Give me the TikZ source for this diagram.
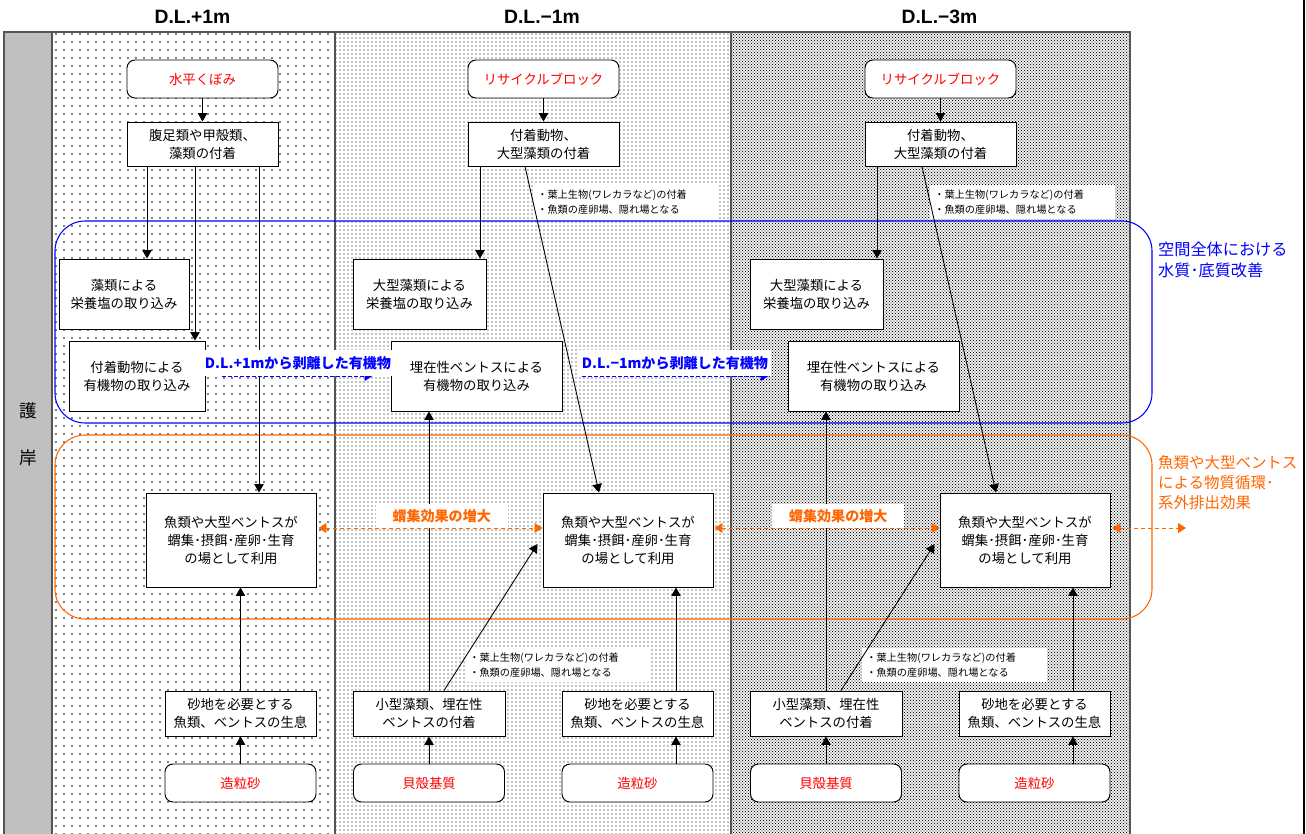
\documentclass[tikz,border=0pt]{standalone}
\usepackage{fontspec}
\setmainfont{Noto Sans CJK JP}
\newfontfamily\headfont{Liberation Sans}
\usepackage{tikz}
\usetikzlibrary{calc, arrows.meta, patterns.meta}
\definecolor{waterBlue}{HTML}{0000FF}
\definecolor{fishOrange}{HTML}{FF6600}
\definecolor{blockRed}{HTML}{FF0000}
\definecolor{wallGray}{HTML}{C0C0C0}
\definecolor{lineGray}{HTML}{555555}

\newcommand{\boxfont}{\fontsize{7.6}{10.2}\selectfont}
\newcommand{\notefont}{\fontsize{5.8}{8.6}\selectfont}

\tikzset{
  box/.style={draw, fill=white, line width=0.55pt, align=center, font=\boxfont, inner sep=0pt},
  srcbox/.style={box, rounded corners=1.6mm, text=blockRed, minimum width=30.2mm, minimum height=7.6mm},
  arr/.style={-{Triangle[length=1.7mm, width=1.9mm]}, line width=0.5pt},
  notebox/.style={fill=white, align=left, font=\notefont, text width=35.4mm, inner xsep=0.8mm, inner ysep=1mm, anchor=west},
  driftArr/.style={-{Triangle[length=1.6mm, width=2mm]}, waterBlue, dash pattern=on 0.7mm off 0.5mm, line width=0.5pt},
  driftLabel/.style={fill=white, text=waterBlue, font=\fontsize{8}{9}\selectfont\bfseries, inner xsep=0.6mm, inner ysep=1.3mm, above=-0.1mm},
  gatherArr/.style={{Triangle[length=1.6mm, width=2mm]}-{Triangle[length=1.6mm, width=2mm]}, fishOrange, dash pattern=on 0.8mm off 0.6mm, line width=0.5pt},
  gatherLabel/.style={fill=white, text=fishOrange, font=\fontsize{8}{9}\selectfont\bfseries, inner xsep=3.4mm, inner ysep=1mm, above=0mm, pos=0.55},
}

\begin{document}
\begin{tikzpicture}[x=0.2mm, y=-0.2mm]
    \useasboundingbox (0,0) rectangle (1306,834);

    % depth zones
    \fill[wallGray] (4,32) rectangle (52,840);
    \fill[pattern={Dots[distance=1.6mm, radius=0.17mm]}] (52,32) rectangle (335,840);
    \fill[pattern={Dots[distance=0.8mm, radius=0.12mm]}] (335,32) rectangle (731,840);
    \fill[pattern={Dots[distance=0.6mm, radius=0.13mm]}] (731,32) rectangle (1130,840);
    \fill[pattern={Dots[distance=0.6mm, radius=0.13mm, xshift=0.3mm, yshift=0.3mm]}] (731,32) rectangle (1130,840);
    \draw[lineGray, line width=1pt] (4,840) -- (4,32) -- (1130,32) -- (1130,840);
    \foreach \x in {52,335,731}
        \draw[lineGray, line width=1pt] (\x,32) -- (\x,840);
    \draw[line width=1pt] (1304,0) -- (1304,834);

    \node[font=\headfont\bfseries\fontsize{11}{13}\selectfont] (head1) at (192.5,17) {D.L.+1m};
    \node[font=\headfont\bfseries\fontsize{11}{13}\selectfont] (head2) at (542,17) {D.L.−1m};
    \node[font=\headfont\bfseries\fontsize{11}{13}\selectfont] (head3) at (939.5,17) {D.L.−3m};
    \node[font=\fontsize{10}{12}\selectfont] (wallA) at (28,411) {護};
    \node[font=\fontsize{10}{12}\selectfont] (wallB) at (28,458) {岸};

    % effect groups
    \draw[waterBlue, line width=0.6pt, rounded corners=6mm] (55,221) rectangle (1152,423);
    \draw[fishOrange, line width=0.6pt, rounded corners=6mm] (55,435) rectangle (1152,619);
    \node[text=waterBlue, font=\fontsize{9.2}{12}\selectfont, align=left, anchor=west] (waterNote) at (1152,260) {空間全体における\\水質･底質改善};
    \node[text=fishOrange, font=\fontsize{8.8}{11.4}\selectfont, align=left, anchor=west] (cycleNote) at (1152,483) {魚類や大型ベントス\\による物質循環･\\系外排出効果};

    % D.L.+1m
    \node[srcbox] (src1) at (202.5,79) {水平くぼみ};
    \node[box, minimum width=30.2mm, minimum height=8.8mm] (att1) at (202.5,144) {腹足類や甲殻類、\\藻類の付着};
    \node[box, minimum width=26mm, minimum height=14mm] (alg1) at (124,294) {藻類による\\栄養塩の取り込み};
    \node[box, minimum width=27.2mm, minimum height=14mm] (org1) at (137,376) {付着動物による\\有機物の取り込み};
    \node[box, minimum width=34mm, minimum height=18.8mm] (fish1) at (231,540) {魚類や大型ベントスが\\蝟集･摂餌･産卵･生育\\の場として利用};
    \node[box, minimum width=30.2mm, minimum height=9mm] (sand1) at (240.5,713.5) {砂地を必要とする\\魚類、ベントスの生息};
    \node[srcbox] (grain1) at (240.5,783) {造粒砂};

    % D.L.-1m and D.L.-3m
    \foreach \p/\dx in {2/0, 3/397} {
        \node[srcbox] (src\p) at (543.5+\dx,79) {リサイクルブロック};
        \node[box, minimum width=30.2mm, minimum height=8.8mm] (att\p) at (543.5+\dx,144) {付着動物、\\大型藻類の付着};
        \node[box, minimum width=26.6mm, minimum height=14mm] (alg\p) at (419.5+\dx,294) {大型藻類による\\栄養塩の取り込み};
        \node[box, minimum width=34.2mm, minimum height=14mm] (org\p) at (476.5+\dx,376) {埋在性ベントスによる\\有機物の取り込み};
        \node[box, minimum width=34mm, minimum height=18.8mm] (fish\p) at (628+\dx,540) {魚類や大型ベントスが\\蝟集･摂餌･産卵･生育\\の場として利用};
        \node[box, minimum width=30.4mm, minimum height=9mm] (small\p) at (429+\dx,713.5) {小型藻類、埋在性\\ベントスの付着};
        \node[box, minimum width=30.2mm, minimum height=9mm] (sand\p) at (637.5+\dx,713.5) {砂地を必要とする\\魚類、ベントスの生息};
        \node[srcbox] (shell\p) at (429+\dx,783) {貝殻基質};
        \node[srcbox] (grain\p) at (637.5+\dx,783) {造粒砂};
        \node[notebox] (leafA\p) at (533+\dx,202) {・葉上生物(ワレカラなど)の付着\\・魚類の産卵場、隠れ場となる};
        \node[notebox] (leafB\p) at (465+\dx,665) {・葉上生物(ワレカラなど)の付着\\・魚類の産卵場、隠れ場となる};
    }

    % links
    \draw[arr] (src1) -- (att1);
    \coordinate (dropA) at ($(att1.south)+(-55.5,0)$);
    \coordinate (dropB) at ($(att1.south)+(-7.5,0)$);
    \coordinate (dropC) at ($(att1.south)+(56.5,0)$);
    \draw[arr] (dropA) -- (dropA |- alg1.north);
    \draw[arr] (dropB) -- (dropB |- org1.north);
    \draw[arr] (dropC) -- (dropC |- fish1.north);
    \draw[arr] (grain1) -- (sand1);
    \draw[arr] (sand1.north) -- (sand1.north |- fish1.south);

    \foreach \p in {2,3} {
        \draw[arr] (src\p) -- (att\p);
        \coordinate (drop\p) at ($(att\p.south)+(-63.5,0)$);
        \draw[arr] (drop\p) -- (drop\p |- alg\p.north);
        \draw[arr] ($(att\p.south)+(-18.5,0)$) -- ($(fish\p.north)+(-29,0)$);
        \draw[arr] (shell\p) -- (small\p);
        \draw[arr] (small\p.north) -- (small\p.north |- org\p.south);
        \draw[arr] ($(small\p.north)+(15,0)$) -- ($(fish\p.west)+(-5,4)$);
        \coordinate (rise\p) at ($(sand\p.north)+(38.5,0)$);
        \draw[arr] (rise\p |- grain\p.north) -- (rise\p |- sand\p.south);
        \draw[arr] (rise\p) -- (rise\p |- fish\p.south);
    }

    \draw[driftArr, shorten <=3.4mm, shorten >=3.6mm] (org1.east) -- node[driftLabel] {D.L.+1mから剥離した有機物} (org2.west);
    \draw[driftArr, shorten <=4mm, shorten >=3.8mm] (org2.east) -- node[driftLabel] {D.L.−1mから剥離した有機物} (org3.west);

    \draw[gatherArr] ($(fish1.east)+(2,-12)$) -- node[gatherLabel] {蝟集効果の増大} ($(fish2.west)+(0,-12)$);
    \draw[gatherArr] ($(fish2.east)+(1,-12)$) -- node[gatherLabel] {蝟集効果の増大} ($(fish3.west)+(0,-12)$);
    \coordinate (outside) at (1186,528);
    \draw[gatherArr] ($(fish3.east)+(2,-12)$) -- (outside);
\end{tikzpicture}
\end{document}
